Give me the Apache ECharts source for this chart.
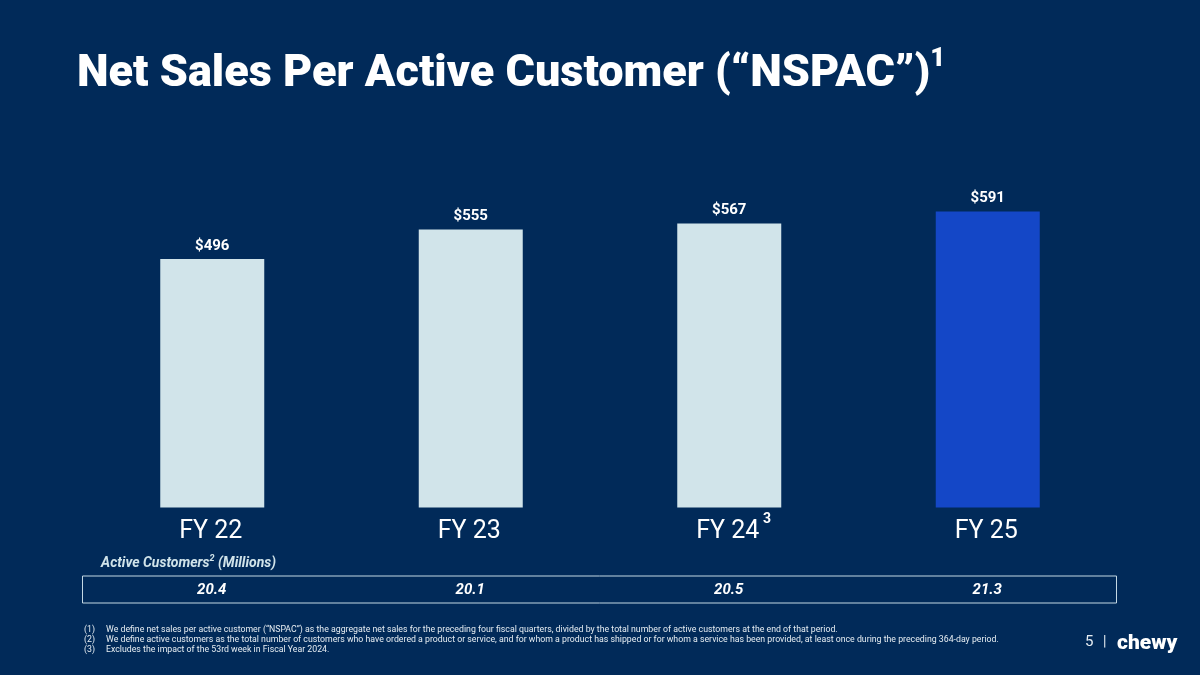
<!DOCTYPE html>
<html>
<head>
<meta charset="utf-8">
<style>
  html, body { margin: 0; padding: 0; background: #012a59; }
  #chart { width: 1200px; height: 675px; }
</style>
</head>
<body>
<div id="chart"></div>
<script src="https://cdn.jsdelivr.net/npm/echarts@6/dist/echarts.min.js"></script>
<script>
const categories = ['FY 22', 'FY 23', 'FY 24', 'FY 25']
const nspac = [496, 555, 567, 591]
const activeCustomers = [20.4, 20.1, 20.5, 21.3]
const footnoteMarks = ['(1)', '(2)', '(3)']
const footnotes = [
  'We define net sales per active customer (“NSPAC”) as the aggregate net sales for the preceding four fiscal quarters, divided by the total number of active customers at the end of that period.',
  'We define active customers as the total number of customers who have ordered a product or service, and for whom a product has shipped or for whom a service has been provided, at least once during the preceding 364-day period.',
  'Excludes the impact of the 53rd week in Fiscal Year 2024.'
]

const font = 'Roboto'
const white = '#ffffff'
const barLight = '#d1e4ea'
const barBlue = '#1447c7'

let myChart = echarts.init(document.getElementById('chart'))

// footnote lines, marks and text are separate columns
const footnoteY = [630, 640, 650]
let footnoteText = []
footnotes.forEach((line, i) => {
  footnoteText.push({
    type: 'text', left: 84, top: footnoteY[i] - 5,
    style: { text: footnoteMarks[i], fill: '#e6edf2', font: '8.75px ' + font }
  })
  footnoteText.push({
    type: 'text', left: 106, top: footnoteY[i] - 5,
    style: { text: line, fill: '#e6edf2', font: '8.75px ' + font }
  })
})

myChart.setOption({
  backgroundColor: '#012a59',
  animation: false,
  title: [{
    left: 72, top: 41,
    text: 'Net Sales Per Active Customer (“NSPAC”){sup|1}',
    textStyle: {
      color: white, fontFamily: font, fontWeight: 900, fontSize: 45, lineHeight: 58,
      rich: {
        sup: { color: white, fontFamily: font, fontWeight: 900, fontSize: 26, verticalAlign: 'top', lineHeight: 36 }
      }
    }
  }, {
    left: 96, top: 549,
    text: 'Active Customers{sup|2} (Millions)',
    textStyle: {
      color: '#d1e4ea', fontFamily: font, fontWeight: 'bold', fontStyle: 'italic', fontSize: 14, lineHeight: 18,
      rich: {
        sup: { color: '#d1e4ea', fontFamily: font, fontWeight: 'bold', fontStyle: 'italic', fontSize: 9, verticalAlign: 'top', lineHeight: 16 }
      }
    }
  }],
  grid: [
    { left: 83, top: 207, width: 1034, height: 300.5 },
    { left: 82.5, top: 576, width: 1034, height: 27, show: true, backgroundColor: 'transparent', borderColor: '#c4d8e4', borderWidth: 1 }
  ],
  xAxis: [{
    type: 'category',
    data: categories,
    axisLine: { show: false },
    axisTick: { show: false },
    axisLabel: { color: white, fontFamily: font, fontSize: 25, margin: 12, padding: [0, 3, 0, 0] }
  }, {
    type: 'category',
    gridIndex: 1,
    data: categories,
    axisLine: { show: false },
    axisTick: { show: false },
    axisLabel: { show: false }
  }],
  yAxis: [{
    type: 'value',
    min: 0,
    max: 600,
    show: false
  }, {
    type: 'category',
    gridIndex: 1,
    data: ['Active Customers'],
    show: false
  }],
  series: [{
    type: 'bar',
    barWidth: 104,
    data: nspac.map((v, i) => ({
      value: v,
      itemStyle: { color: i === nspac.length - 1 ? barBlue : barLight }
    })),
    label: {
      show: true,
      position: 'top',
      distance: 5.5,
      formatter: p => '$' + p.value,
      color: white, fontFamily: font, fontWeight: 'bold', fontSize: 15
    }
  }, {
    type: 'scatter',
    xAxisIndex: 1,
    yAxisIndex: 1,
    symbolSize: 0,
    itemStyle: { opacity: 1 },
    data: activeCustomers.map((v, i) => [i, 0, v]),
    label: {
      show: true,
      position: 'inside',
      offset: [0, 1],
      formatter: p => p.data[2].toFixed(1),
      color: white, fontFamily: font, fontWeight: 'bold', fontStyle: 'italic', fontSize: 15
    }
  }],
  graphic: [
    { type: 'text', left: 763, top: 512, style: { text: '3', fill: white, font: 'bold 14px ' + font } },
    { type: 'text', left: 1085, top: 635, style: { text: '5', fill: '#e6edf2', font: '15px ' + font } },
    { type: 'text', left: 1103, top: 635, style: { text: '|', fill: '#e6edf2', font: '14px ' + font } },
    { type: 'text', left: 1117, top: 633, style: { text: 'chewy', fill: white, font: '900 21px ' + font } }
  ].concat(footnoteText)
})
</script>
</body>
</html>
